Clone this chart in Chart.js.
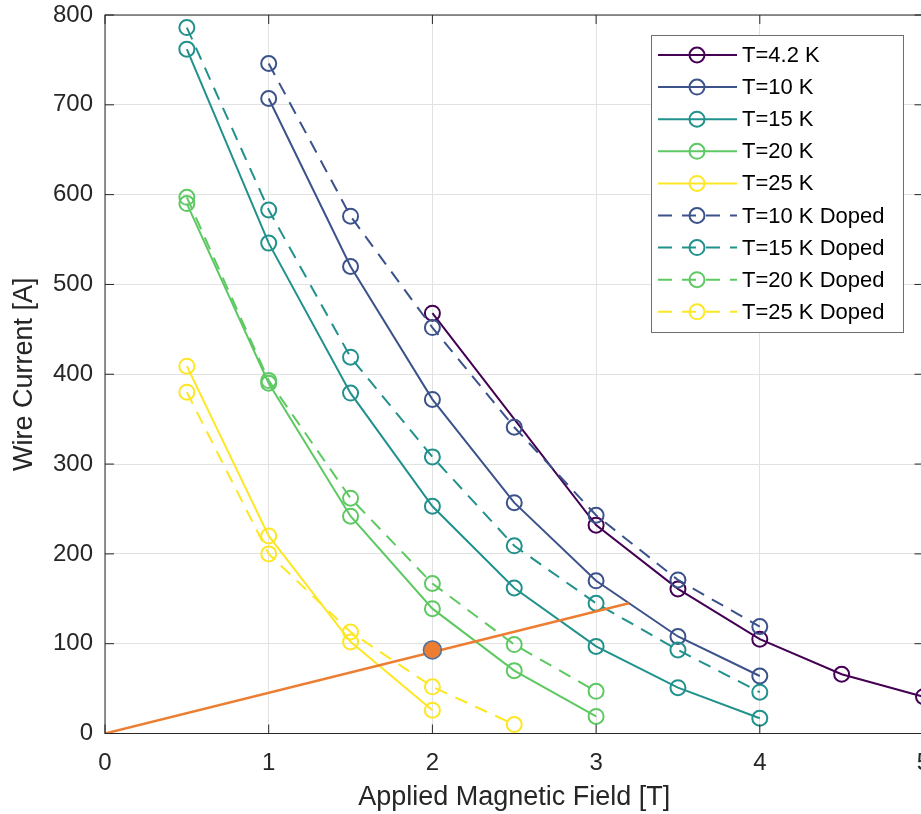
<!DOCTYPE html>
<html>
<head>
<meta charset="utf-8">
<title>Wire current vs applied magnetic field</title>
<script src="https://cdn.jsdelivr.net/npm/chart.js@4.4.0/dist/chart.umd.min.js"></script>
<style>
  html, body { margin: 0; padding: 0; background: #fff; overflow: hidden; }
  #wrap { position: relative; width: 940px; height: 814px; }
</style>
</head>
<body>
<div id="wrap"><canvas id="chart"></canvas></div>
<script>
  // Axis ticks
  const xTicks = [0, 1, 2, 3, 4, 5];
  const yTicks = [0, 100, 200, 300, 400, 500, 600, 700, 800];

  // Critical current curves
  const field42 = [2, 3, 3.5, 4, 4.5, 5];
  const current42 = [468, 232, 161, 105, 66, 41];

  const field10 = [1, 1.5, 2, 2.5, 3, 3.5, 4];
  const current10 = [707, 520, 372, 257, 170, 108, 64];
  const current10Doped = [746, 576, 452, 341, 243, 171, 119];

  const field15 = [0.5, 1, 1.5, 2, 2.5, 3, 3.5, 4];
  const current15 = [762, 546, 379, 253, 162, 97, 51, 17];
  const current15Doped = [786, 583, 419, 308, 209, 145, 93, 46];

  const field20 = [0.5, 1, 1.5, 2, 2.5, 3];
  const current20 = [590, 390, 242, 139, 70, 19];
  const current20Doped = [597, 393, 262, 167, 99, 47];

  const field25 = [0.5, 1, 1.5, 2];
  const current25 = [409, 220, 102, 26];
  const field25Doped = [0.5, 1, 1.5, 2, 2.5];
  const current25Doped = [380, 200, 113, 52, 10];

  // Load line and operating point
  const loadLineField = [0, 3.2];
  const loadLineCurrent = [0, 145];
  const operatingField = [2];
  const operatingCurrent = [93];

  const FONT = "'Liberation Sans', Arial, Helvetica, sans-serif";
  const TEXT = '#262626';

  const series = [
    { label: 'T=4.2 K', x: field42, y: current42, color: '#440154', dashed: false },
    { label: 'T=10 K', x: field10, y: current10, color: '#3b528b', dashed: false },
    { label: 'T=15 K', x: field15, y: current15, color: '#21918c', dashed: false },
    { label: 'T=20 K', x: field20, y: current20, color: '#5ec962', dashed: false },
    { label: 'T=25 K', x: field25, y: current25, color: '#fde725', dashed: false },
    { label: 'T=10 K Doped', x: field10, y: current10Doped, color: '#3b528b', dashed: true },
    { label: 'T=15 K Doped', x: field15, y: current15Doped, color: '#21918c', dashed: true },
    { label: 'T=20 K Doped', x: field20, y: current20Doped, color: '#5ec962', dashed: true },
    { label: 'T=25 K Doped', x: field25Doped, y: current25Doped, color: '#fde725', dashed: true }
  ];

  const zip = (xs, ys) => xs.map((v, i) => ({ x: v, y: ys[i] }));

  const datasets = series.map((s, i) => ({
    label: s.label,
    data: zip(s.x, s.y),
    borderColor: s.color,
    borderWidth: 2,
    borderDash: s.dashed ? [13, 9] : [],
    pointRadius: 7.5,
    pointBorderWidth: 2,
    pointBorderColor: s.color,
    pointBackgroundColor: 'rgba(255,255,255,0)',
    tension: 0,
    fill: false,
    order: 20 - i
  }));

  datasets.push({
    label: 'load line',
    data: zip(loadLineField, loadLineCurrent),
    borderColor: '#ed7d31',
    borderWidth: 2.5,
    pointRadius: 0,
    tension: 0,
    fill: false,
    order: 2
  });
  datasets.push({
    label: 'operating point',
    data: zip(operatingField, operatingCurrent),
    showLine: false,
    pointRadius: 9,
    pointBorderWidth: 1.5,
    pointBorderColor: '#4472a8',
    pointBackgroundColor: '#ed7d31',
    order: 1
  });

  // MATLAB style box with inward ticks on all four sides
  const axesBox = {
    id: 'axesBox',
    afterDatasetsDraw(chart) {
      const { ctx, chartArea: a, scales } = chart;
      const len = 9;
      ctx.save();
      ctx.strokeStyle = TEXT;
      ctx.lineWidth = 1;
      ctx.strokeRect(a.left, a.top, a.right - a.left, a.bottom - a.top);
      ctx.beginPath();
      xTicks.forEach(v => {
        const px = scales.x.getPixelForValue(v);
        ctx.moveTo(px, a.bottom); ctx.lineTo(px, a.bottom - len);
        ctx.moveTo(px, a.top); ctx.lineTo(px, a.top + len);
      });
      yTicks.forEach(v => {
        const py = scales.y.getPixelForValue(v);
        ctx.moveTo(a.left, py); ctx.lineTo(a.left + len, py);
        ctx.moveTo(a.right, py); ctx.lineTo(a.right - len, py);
      });
      ctx.stroke();
      ctx.restore();
    }
  };

  // Legend inside the axes, top right, with a border
  const boxLegend = {
    id: 'boxLegend',
    afterDraw(chart) {
      const { ctx, chartArea: a } = chart;
      const w = 252, h = 297;
      const left = a.right - 20.5 - w;
      const top = a.top + 20;
      const rowH = 32.1;
      ctx.save();
      ctx.fillStyle = '#fff';
      ctx.fillRect(left, top, w, h);
      ctx.strokeStyle = '#6e6e6e';
      ctx.lineWidth = 1;
      ctx.strokeRect(left + 0.5, top + 0.5, w, h);
      ctx.font = '22px ' + FONT;
      ctx.textBaseline = 'middle';
      series.forEach((s, i) => {
        const y = top + 20 + i * rowH;
        ctx.strokeStyle = s.color;
        ctx.lineWidth = 2;
        ctx.setLineDash(s.dashed ? [14, 10] : []);
        ctx.beginPath();
        ctx.moveTo(left + 7, y);
        ctx.lineTo(left + 86, y);
        ctx.stroke();
        ctx.setLineDash([]);
        ctx.beginPath();
        ctx.arc(left + 46, y, 7.5, 0, Math.PI * 2);
        ctx.stroke();
        ctx.fillStyle = '#000';
        ctx.fillText(s.label, left + 91, y + 1);
      });
      ctx.restore();
    }
  };

  new Chart(document.getElementById('chart'), {
    type: 'line',
    data: { datasets },
    options: {
      responsive: true,
      maintainAspectRatio: false,
      animation: false,
      events: [],
      layout: { padding: { top: 15, right: 16.5, left: 0, bottom: 0 } },
      plugins: { legend: { display: false }, tooltip: { enabled: false } },
      scales: {
        x: {
          type: 'linear',
          min: 0,
          max: 5,
          afterBuildTicks: s => { s.ticks = xTicks.map(v => ({ value: v })); },
          ticks: { color: TEXT, font: { family: FONT, size: 24 }, padding: 15, maxRotation: 0, autoSkip: false },
          grid: { color: '#e2e2e2', lineWidth: 1, drawTicks: false },
          border: { display: false },
          title: { display: true, text: 'Applied Magnetic Field [T]', color: TEXT, font: { family: FONT, size: 27 }, padding: { top: 0, bottom: 0 } },
          afterFit: s => { s.height = 80.5; s.paddingLeft = 0; s.paddingRight = 0; }
        },
        y: {
          type: 'linear',
          min: 0,
          max: 800,
          afterBuildTicks: s => { s.ticks = yTicks.map(v => ({ value: v })); },
          ticks: { color: TEXT, font: { family: FONT, size: 24 }, padding: 12, autoSkip: false },
          grid: { color: '#e2e2e2', lineWidth: 1, drawTicks: false },
          border: { display: false },
          title: { display: true, text: 'Wire Current [A]', color: TEXT, font: { family: FONT, size: 27 }, padding: { top: 8, bottom: 0 } },
          afterFit: s => { s.width = 105; s.paddingTop = 0; s.paddingBottom = 0; }
        }
      }
    },
    plugins: [axesBox, boxLegend]
  });
</script>
</body>
</html>
